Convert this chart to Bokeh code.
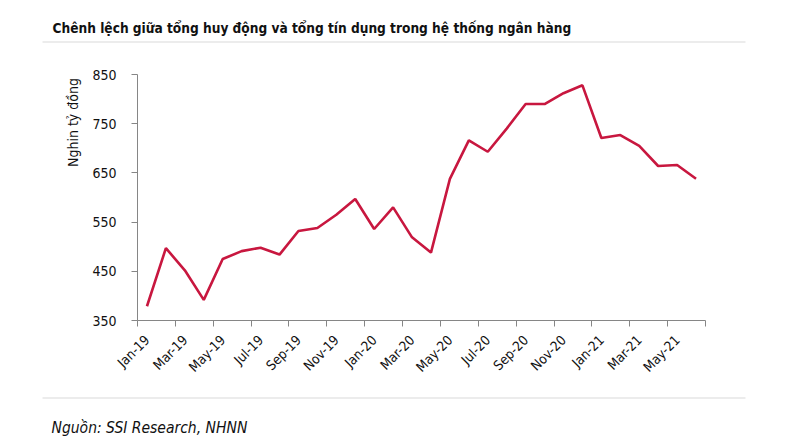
import math
from bokeh.plotting import figure
from bokeh.models import FixedTicker, LinearAxis, Label, Range1d, ColumnDataSource, BoxAnnotation
from bokeh.embed import file_html
from bokeh.resources import INLINE

months = ["Jan-19", "Feb-19", "Mar-19", "Apr-19", "May-19", "Jun-19", "Jul-19", "Aug-19", "Sep-19", "Oct-19",
          "Nov-19", "Dec-19", "Jan-20", "Feb-20", "Mar-20", "Apr-20", "May-20", "Jun-20", "Jul-20", "Aug-20",
          "Sep-20", "Oct-20", "Nov-20", "Dec-20", "Jan-21", "Feb-21", "Mar-21", "Apr-21", "May-21", "Jun-21"]
values = [379, 497, 452, 392, 475, 491, 498, 484, 532, 538,
          565, 597, 536, 580, 519, 488, 638, 716, 693, 740,
          790, 790, 812, 828, 721, 727, 705, 664, 666, 638]
y_ticks = [350, 450, 550, 650, 750, 850]

title_text = "Chênh lệch giữa tổng huy động và tổng tín dụng trong hệ thống ngân hàng"
y_label_text = "Nghin tỷ đồng"
source_text = "Nguồn: SSI Research, NHNN"

FONT = "DejaVu Sans Condensed"
TEXT = "#111111"
SEP = "#d9d9d9"
AXIS = "#868686"
LINE = "#c8173f"

W, H = 800, 444
# plot-area placement on the canvas (pixels)
AX_L, AX_R, AX_T, AX_B = 137, 705, 74, 320

n = len(months)
x_lo, x_hi = -0.5, n - 0.5
y_lo, y_hi = min(y_ticks), max(y_ticks)
ppx = (AX_R - AX_L) / (x_hi - x_lo)
ppy = (AX_B - AX_T) / (y_hi - y_lo)
x_range = Range1d(x_lo - AX_L / ppx, x_hi + (W - AX_R) / ppx)
y_range = Range1d(y_lo - (H - AX_B) / ppy, y_hi + AX_T / ppy)

p = figure(width=W, height=H, output_backend="svg", toolbar_location=None,
           x_range=x_range, y_range=y_range,
           min_border_left=0, min_border_right=0, min_border_top=0, min_border_bottom=0,
           x_axis_location=None, y_axis_location=None)
p.outline_line_color = None
p.grid.visible = False
p.background_fill_color = "white"
p.border_fill_color = "white"

src = ColumnDataSource(dict(x=list(range(n)), y=values))
p.line("x", "y", source=src, line_color=LINE, line_width=2.6)

# y axis
ya = LinearAxis(ticker=FixedTicker(ticks=y_ticks), fixed_location=x_lo, bounds=(y_lo, y_hi))
ya.axis_line_color = AXIS
ya.major_tick_line_color = AXIS
ya.major_tick_out = 6
ya.major_tick_in = 0
ya.minor_tick_line_color = None
ya.major_label_text_font = FONT
ya.major_label_text_font_size = "14px"
ya.major_label_text_color = TEXT
ya.major_label_standoff = 15
p.add_layout(ya, "left")

# x axis: tick marks at category boundaries every two months
bounds = [i - 0.5 for i in range(0, n + 1, 2)]
xa = LinearAxis(ticker=FixedTicker(ticks=bounds), fixed_location=y_lo, bounds=(x_lo, x_hi),
                major_label_overrides={b: "" for b in bounds})
xa.axis_line_color = AXIS
xa.major_tick_line_color = AXIS
xa.major_tick_out = 6
xa.major_tick_in = 0
xa.minor_tick_line_color = None
xa.major_label_standoff = 0
xa.major_label_text_font_size = "1px"
p.add_layout(xa, "below")

# x labels at every other month
label_idx = list(range(0, n, 2))
xl = LinearAxis(ticker=FixedTicker(ticks=label_idx), fixed_location=y_lo, bounds=(x_lo, x_hi),
                major_label_overrides={i: months[i] for i in label_idx})
xl.axis_line_color = None
xl.major_tick_line_color = None
xl.minor_tick_line_color = None
xl.major_tick_out = 0
xl.major_tick_in = 0
xl.major_label_orientation = math.pi / 4
xl.major_label_text_font = FONT
xl.major_label_text_font_size = "13.5px"
xl.major_label_text_color = TEXT
xl.major_label_standoff = 17
p.add_layout(xl, "below")

# texts and separators (screen units measured from the bottom-left of the canvas)
p.add_layout(Label(x=52, y=H - 27, x_units="screen", y_units="screen", text=title_text,
                   text_font=FONT, text_font_style="bold", text_font_size="13.6px",
                   text_color=TEXT, text_baseline="alphabetic"))
p.add_layout(Label(x=72, y=H - 122, x_units="screen", y_units="screen", text=y_label_text,
                   angle=math.pi / 2, text_font=FONT, text_font_size="14px",
                   text_color=TEXT, text_align="center", text_baseline="middle"))
p.add_layout(Label(x=51, y=H - 427, x_units="screen", y_units="screen", text=source_text,
                   text_font=FONT, text_font_style="italic", text_font_size="15.5px",
                   text_color=TEXT, text_baseline="alphabetic"))
for yy in (41.5, 397.5):
    p.add_layout(BoxAnnotation(left=42, right=745, top=H - yy + 0.6, bottom=H - yy - 0.6,
                               left_units="screen", right_units="screen",
                               top_units="screen", bottom_units="screen",
                               fill_color=SEP, fill_alpha=1, line_color=None))

open("out.html", "w").write(file_html(p, INLINE))
